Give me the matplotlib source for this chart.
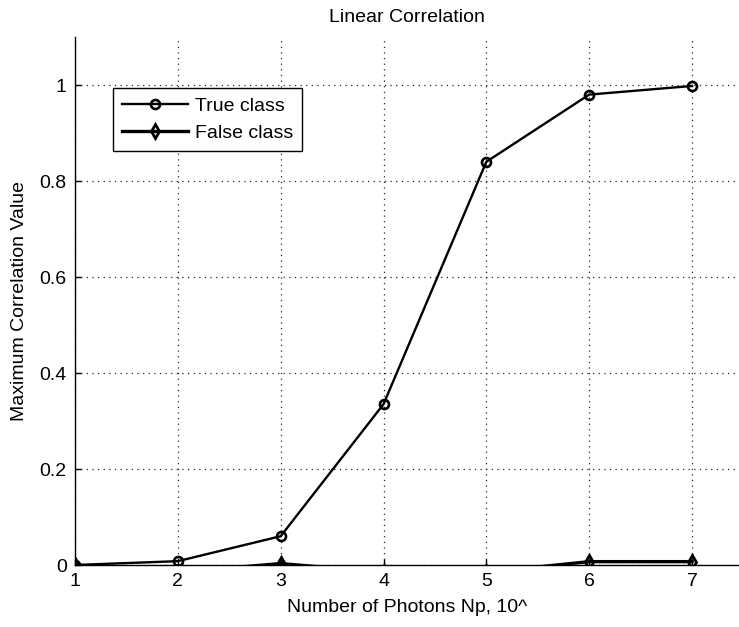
import matplotlib
matplotlib.use("Agg")
import matplotlib.pyplot as plt

plt.rcParams["font.family"] = ["Liberation Sans", "DejaVu Sans"]

# photons exponent (Np = 10^x) and peak correlation per class
photons = [1, 2, 3, 4, 5, 6, 7]
true_class = [0.0, 0.008, 0.06, 0.335, 0.84, 0.98, 0.998]
false_class = [0.0, -0.015, 0.003, -0.015, -0.015, 0.007, 0.007]

FS = 14

fig = plt.figure(figsize=(7.39, 6.27), dpi=100)
ax = fig.add_axes([75 / 739, 62 / 627, 1 - 75 / 739, 528 / 627])

ax.plot(photons, true_class, color="black", lw=1.7, marker="o", ms=6.5,
        mfc="none", mew=1.9, label="True class")
ax.plot(photons, false_class, color="black", lw=2.4, marker="d", ms=7.5,
        mfc="none", mew=2.0, label="False class")

ax.set_xlim(1, 7.457)
ax.set_ylim(0, 1.1)
ax.set_xticks(photons)
ax.set_yticks([0, 0.2, 0.4, 0.6, 0.8, 1])
ax.set_yticklabels(["0", "0.2", "0.4", "0.6", "0.8", "1"])

ax.grid(True, color="0.15", ls=(0, (1, 3.5)), lw=0.9)
for s in ("top", "right"):
    ax.spines[s].set_visible(False)
for s in ("left", "bottom"):
    ax.spines[s].set_linewidth(1.0)
ax.tick_params(direction="in", length=4, width=1.0, labelsize=FS, pad=6)

ax.set_title("Linear Correlation", fontsize=FS, pad=11)
ax.set_xlabel("Number of Photons Np, 10^", fontsize=FS, labelpad=6)
ax.set_ylabel("Maximum Correlation Value", fontsize=FS, labelpad=8)

leg = ax.legend(loc="upper left", bbox_to_anchor=(0.057, 0.903), borderaxespad=0,
                fontsize=FS, numpoints=1, handlelength=3.4, handletextpad=0.4,
                fancybox=False, edgecolor="black", framealpha=1,
                borderpad=0.45, labelspacing=0.5)
leg.get_frame().set_linewidth(1.0)

fig.savefig("out.png", dpi=100)
